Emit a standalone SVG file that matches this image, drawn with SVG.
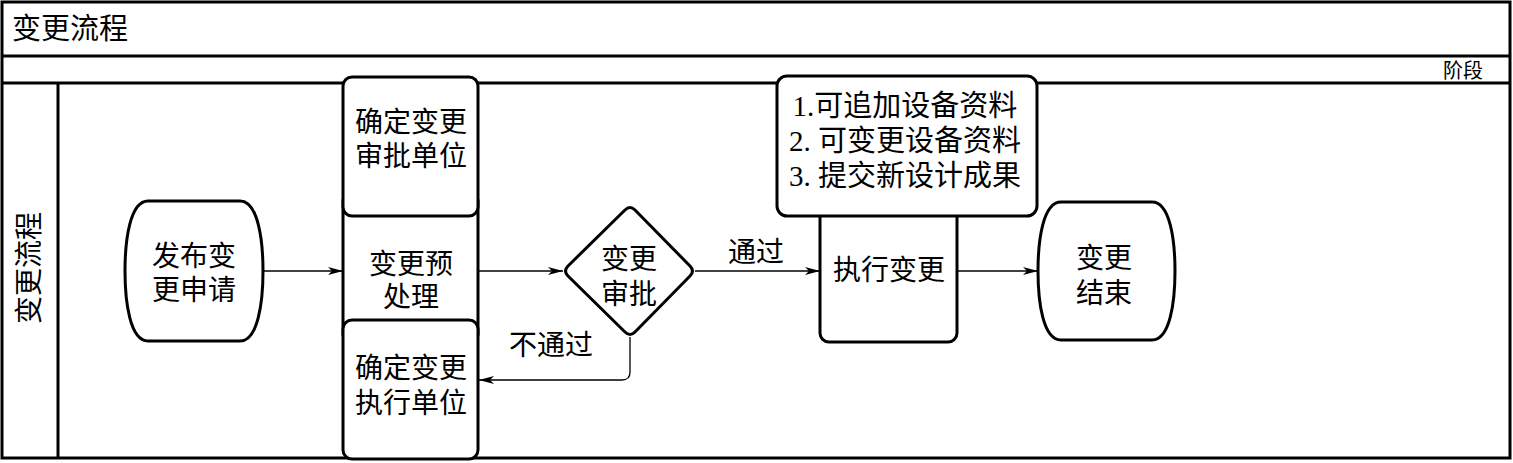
<svg xmlns="http://www.w3.org/2000/svg" width="1513" height="463" viewBox="0 0 1513 463">
<style>
.frame{fill:none;stroke:#000;stroke-width:3}
.node{fill:#fff;stroke:#000;stroke-width:3;stroke-linejoin:round}
.conn{fill:none;stroke:#000;stroke-width:1.3}
text{font-family:"Liberation Serif","Noto Sans CJK SC",serif;fill:#000}
.t{font-size:28px;text-anchor:middle;dominant-baseline:central}
.n{font-size:29px;text-anchor:middle;dominant-baseline:central}
</style>
<defs>
<marker id="arr" markerUnits="userSpaceOnUse" markerWidth="16" markerHeight="10" refX="15" refY="5" orient="auto">
<path d="M0,1 L15,5 L0,9 L4,5 Z" fill="#000"/>
</marker>
</defs>
<rect x="0" y="0" width="1513" height="463" fill="#fff"/>
<g id="frame">
<rect class="frame" x="2" y="2" width="1508" height="456"/>
<line class="frame" x1="2" y1="56" x2="1510" y2="56"/>
<line class="frame" x1="2" y1="83" x2="1510" y2="83"/>
<line class="frame" x1="58" y1="83" x2="58" y2="458"/>
<text x="12" y="29" style="font-size:29px;dominant-baseline:central">变更流程</text>
<text x="1483" y="71" style="font-size:20px;text-anchor:end;dominant-baseline:central">阶段</text>
<text class="t" transform="translate(29,268) rotate(-90)" x="0" y="0">变更流程</text>
</g>
<g id="connectors">
<line class="conn" x1="263" y1="271" x2="343" y2="271" marker-end="url(#arr)"/>
<line class="conn" x1="412" y1="182" x2="412" y2="228" marker-end="url(#arr)"/>
<line class="conn" x1="412" y1="350" x2="412" y2="310" marker-end="url(#arr)"/>
<line class="conn" x1="478" y1="271" x2="563" y2="271" marker-end="url(#arr)"/>
<line class="conn" x1="695" y1="271" x2="820" y2="271" marker-end="url(#arr)"/>
<path class="conn" d="M630,337 V372 Q630,380 622,380 H479" marker-end="url(#arr)"/>
<line class="conn" x1="957" y1="271" x2="1038" y2="271" marker-end="url(#arr)"/>
<line class="conn" x1="888" y1="202" x2="888" y2="252" marker-end="url(#arr)"/>
</g>
<g id="start">
<path class="node" d="M148,201 H240 C258,201 263,240 263,271 C263,302 258,341 240,341 H148 C130,341 125,302 125,271 C125,240 130,201 148,201 Z"/>
<text class="t" x="194" y="256">发布变</text>
<text class="t" x="194" y="290">更申请</text>
</g>
<g id="preprocess">
<rect class="node" x="343" y="200" width="135" height="135"/>
<text class="t" x="411" y="264">变更预</text>
<text class="t" x="411" y="297">处理</text>
</g>
<g id="approval-unit">
<rect class="node" x="343" y="77" width="135" height="139" rx="9"/>
<text class="t" x="411" y="122">确定变更</text>
<text class="t" x="411" y="156">审批单位</text>
</g>
<g id="exec-unit">
<rect class="node" x="343" y="320" width="135" height="139" rx="9"/>
<text class="t" x="411" y="368">确定变更</text>
<text class="t" x="411" y="403">执行单位</text>
</g>
<g id="decision">
<path class="node" d="M568,266 L625,210 Q630,205 635,210 L690,266 Q695,271 690,276 L635,332 Q630,337 625,332 L568,276 Q563,271 568,266 Z"/>
<text class="t" x="629" y="259">变更</text>
<text class="t" x="629" y="294">审批</text>
</g>
<g id="labels">
<text class="t" x="756" y="252">通过</text>
<text class="t" x="551" y="345">不通过</text>
</g>
<g id="execute">
<rect class="node" x="820" y="190" width="137" height="152" rx="9"/>
<text class="t" x="889" y="270">执行变更</text>
</g>
<g id="notes">
<rect class="node" x="777" y="76" width="260" height="140" rx="10"/>
<text class="n" x="905" y="106">1.可追加设备资料</text>
<text class="n" x="905" y="141">2. 可变更设备资料</text>
<text class="n" x="905" y="176">3. 提交新设计成果</text>
</g>
<g id="end">
<path class="node" d="M1061,202 H1152 C1170,202 1175,240 1175,271 C1175,302 1170,340 1152,340 H1061 C1043,340 1038,302 1038,271 C1038,240 1043,202 1061,202 Z"/>
<text class="t" x="1104" y="258">变更</text>
<text class="t" x="1104" y="293">结束</text>
</g>
</svg>
